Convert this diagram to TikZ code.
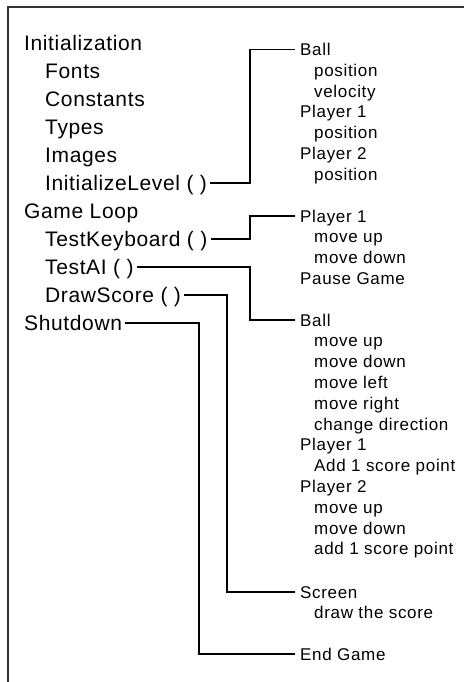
\documentclass[tikz,border=0pt]{standalone}
\usepackage{fontspec}
\setmainfont{Liberation Sans}
\newfontfamily\bigfam[LetterSpace=3]{Liberation Sans}
\newfontfamily\smallfam[LetterSpace=4]{Liberation Sans}
\begin{document}
\begin{tikzpicture}[x=1pt,y=-1pt,
  lt/.style={anchor=base west, inner sep=0pt, font=\bigfam\fontsize{21}{25}\selectfont, text height=15pt, text depth=0pt},
  rt/.style={anchor=base west, inner sep=0pt, font=\smallfam\fontsize{17}{20}\selectfont, text height=12pt, text depth=0pt},
  conn/.style={line width=1.5pt, black},
  frame/.style={line width=1.5pt, black!80}]
\useasboundingbox (0,0) rectangle (464,682);
\draw[frame] (8,682) -- (8,7) -- (464,7);

% left outline
\node[lt] (init)   at (24,50.5)  {Initialization};
\node[lt] (fonts)  at (45,78.5)  {Fonts};
\node[lt] (const)  at (45,106.5) {Constants};
\node[lt] (types)  at (45,134.5) {Types};
\node[lt] (images) at (45,162.5) {Images};
\node[lt] (il)     at (45,190.5) {InitializeLevel ( )};
\node[lt] (gl)     at (24,218.5) {Game Loop};
\node[lt] (tk)     at (45,246.5) {TestKeyboard ( )};
\node[lt] (tai)    at (45,274.5) {TestAI ( )};
\node[lt] (ds)     at (45,302.5) {DrawScore ( )};
\node[lt] (sd)     at (24,330.5) {Shutdown};

% group 1
\node[rt] (b1)  at (300,55.5)  {Ball};
\node[rt] (p1)  at (314,76.3)  {position};
\node[rt] (v1)  at (314,97.1)  {velocity};
\node[rt] (pl1) at (300,117.9) {Player 1};
\node[rt] (pp1) at (314,138.7) {position};
\node[rt] (pl2) at (300,159.5) {Player 2};
\node[rt] (pp2) at (314,180.3) {position};

% group 2
\node[rt] (k1) at (300,222)   {Player 1};
\node[rt] (ku) at (314,242.8) {move up};
\node[rt] (kd) at (314,263.6) {move down};
\node[rt] (pg) at (300,284.4) {Pause Game};

% group 3
\node[rt] (a1)  at (300,326)   {Ball};
\node[rt] (a2)  at (314,346.8) {move up};
\node[rt] (a3)  at (314,367.6) {move down};
\node[rt] (a4)  at (314,388.4) {move left};
\node[rt] (a5)  at (314,409.2) {move right};
\node[rt] (a6)  at (314,430)   {change direction};
\node[rt] (a7)  at (300,450.8) {Player 1};
\node[rt] (a8)  at (314,471.6) {Add 1 score point};
\node[rt] (a9)  at (300,492.4) {Player 2};
\node[rt] (a10) at (314,513.2) {move up};
\node[rt] (a11) at (314,534)   {move down};
\node[rt] (a12) at (314,554.8) {add 1 score point};

% group 4
\node[rt] (scr) at (300,598)   {Screen};
\node[rt] (dts) at (314,618.8) {draw the score};

% group 5
\node[rt] (eg) at (300,660) {End Game};

\coordinate (xa) at (250,0);
\coordinate (xb) at (227,0);
\coordinate (xc) at (199,0);

\draw[conn] ([xshift=3pt]il.east)  -- (xa |- il.east)  |- ([xshift=-5pt]b1.west);
\draw[conn] ([xshift=3pt]tk.east)  -- (xa |- tk.east)  |- ([xshift=-5pt]k1.west);
\draw[conn] ([xshift=3pt]tai.east) -- (xa |- tai.east) |- ([xshift=-5pt]a1.west);
\draw[conn] ([xshift=3pt]ds.east)  -- (xb |- ds.east)  |- ([xshift=-5pt]scr.west);
\draw[conn] ([xshift=3pt]sd.east)  -- (xc |- sd.east)  |- ([xshift=-5pt]eg.west);
\end{tikzpicture}
\end{document}
